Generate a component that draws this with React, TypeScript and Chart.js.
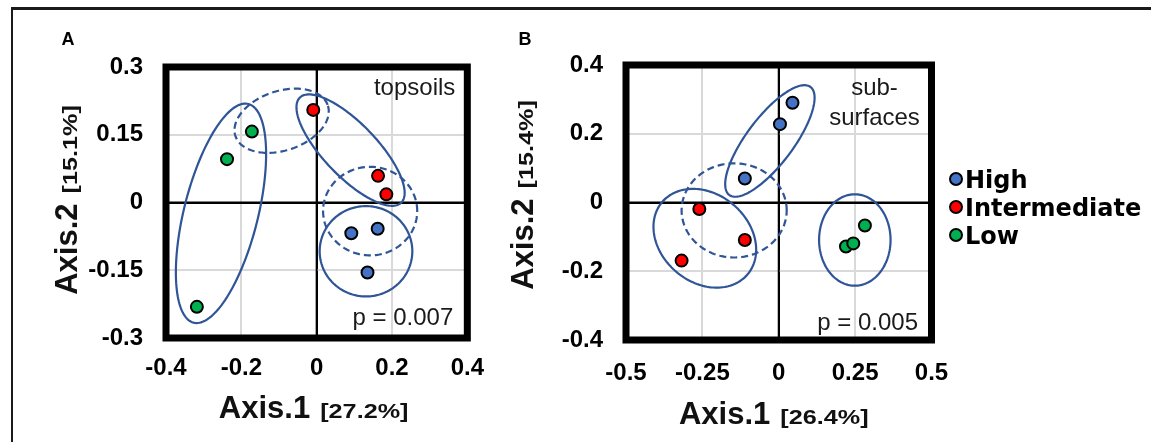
import React, { useEffect, useRef } from "react";
import { Chart, registerables } from "chart.js";

Chart.register(...registerables);

// ---------- shared ----------
const groupLabels = ["High", "Intermediate", "Low"];
const groupColors = ["#4472C4", "#FF0000", "#00B050"];

// ---------- Panel A : topsoils ----------
const topHighX = [0.092, 0.162, 0.135];
const topHighY = [-0.068, -0.058, -0.155];
const topInterX = [-0.009, 0.163, 0.185];
const topInterY = [0.205, 0.059, 0.018];
const topLowX = [-0.172, -0.238, -0.318];
const topLowY = [0.157, 0.096, -0.231];
const topXTicks = [-0.4, -0.2, 0, 0.2, 0.4];
const topXTickLabels = ["-0.4", "-0.2", "0", "0.2", "0.4"];
const topYTicks = [-0.3, -0.15, 0, 0.15, 0.3];
const topYTickLabels = ["-0.3", "-0.15", "0", "0.15", "0.3"];
// ellipse: [centerX, centerY, axis1X, axis1Y, axis2X, axis2Y] (data units)
const topEllipses = [
  [-0.254, -0.024, 0.073, 0.242, 0.095, -0.021],
  [-0.093, 0.181, 0.123, 0.033, 0.023, -0.063],
  [0.09, 0.116, 0.135, -0.116, 0.049, 0.042],
  [0.142, -0.019, 0.125, 0, 0, 0.098],
  [0.131, -0.108, 0.123, 0, 0, 0.1],
];
const topEllipseDashed = [false, true, false, true, false];
const topXTitle = ["Axis.1", "[27.2%]"];
const topYTitle = ["Axis.2", "[15.1%]"];
const topNote = ["topsoils"];
const topP = "p = 0.007";

// ---------- Panel B : sub-surfaces ----------
const subHighX = [0.045, 0.004, -0.111];
const subHighY = [0.29, 0.228, 0.07];
const subInterX = [-0.26, -0.111, -0.318];
const subInterY = [-0.019, -0.109, -0.169];
const subLowX = [0.22, 0.244, 0.282];
const subLowY = [-0.128, -0.119, -0.067];
const subXTicks = [-0.5, -0.25, 0, 0.25, 0.5];
const subXTickLabels = ["-0.5", "-0.25", "0", "0.25", "0.5"];
const subYTicks = [-0.4, -0.2, 0, 0.2, 0.4];
const subYTickLabels = ["-0.4", "-0.2", "0", "0.2", "0.4"];
const subEllipses = [
  [-0.029, 0.179, 0.133, 0.157, 0.061, -0.041],
  [-0.146, -0.023, 0.172, 0, 0, 0.137],
  [-0.242, -0.104, 0.14, -0.105, -0.093, -0.098],
  [0.249, -0.109, 0.117, 0, 0, 0.133],
];
const subEllipseDashed = [false, true, false, false];
const subXTitle = ["Axis.1", "[26.4%]"];
const subYTitle = ["Axis.2", "[15.4%]"];
const subNote = ["sub-", "surfaces"];
const subP = "p = 0.005";

const SANS = '"Liberation Sans", Arial, sans-serif';
const WIDE = '"DejaVu Sans", Verdana, sans-serif';

type Spec = {
  letter: string;
  xs: number[][];
  ys: number[][];
  xTicks: number[];
  xTickLabels: string[];
  yTicks: number[];
  yTickLabels: string[];
  ellipses: number[][];
  dashed: boolean[];
  xTitle: string[];
  yTitle: string[];
  note: string[];
  p: string;
  legend: boolean;
  L: any;
};

const specA: Spec = {
  letter: "A",
  xs: [topHighX, topInterX, topLowX],
  ys: [topHighY, topInterY, topLowY],
  xTicks: topXTicks,
  xTickLabels: topXTickLabels,
  yTicks: topYTicks,
  yTickLabels: topYTickLabels,
  ellipses: topEllipses,
  dashed: topEllipseDashed,
  xTitle: topXTitle,
  yTitle: topYTitle,
  note: topNote,
  p: topP,
  legend: false,
  L: {
    width: 500, left: 0,
    yAxisW: 166, xAxisH: 104, padTop: 67, padRight: 26,
    xTickPad: 16, yTickPad: 23,
    letterX: 68, letterY: 40,
    noteAlign: "right", noteDX: -12, noteDY: 21,
    pDX: -14, pDY: -20,
    yTitleDX: -89, yTitleDY: -2.5,
    xTitleDX: -3, xTitleDY: 80,
  },
};

const specB: Spec = {
  letter: "B",
  xs: [subHighX, subInterX, subLowX],
  ys: [subHighY, subInterY, subLowY],
  xTicks: subXTicks,
  xTickLabels: subXTickLabels,
  yTicks: subYTicks,
  yTickLabels: subYTickLabels,
  ellipses: subEllipses,
  dashed: subEllipseDashed,
  xTitle: subXTitle,
  yTitle: subYTitle,
  note: subNote,
  p: subP,
  legend: true,
  L: {
    width: 651, left: 500,
    yAxisW: 126, xAxisH: 102, padTop: 65, padRight: 219.5,
    xTickPad: 19, yTickPad: 23,
    letterX: 25, letterY: 40,
    noteAlign: "center", noteDX: -57, noteDY: 23,
    pDX: -13.5, pDY: -17,
    yTitleDX: -93, yTitleDY: -7.5,
    xTitleDX: -5, xTitleDY: 83.5,
  },
};

function drawTitle(ctx: CanvasRenderingContext2D, parts: string[]) {
  // draws centred at origin, baseline at y=0
  ctx.font = `bold 31px ${SANS}`;
  const w1 = ctx.measureText(parts[0]).width;
  ctx.font = `bold 21px ${SANS}`;
  const sx = 1.2;
  const w2 = ctx.measureText(parts[1]).width * sx;
  const gap = 10;
  const total = w1 + gap + w2;
  const x0 = -total / 2;
  ctx.textAlign = "left";
  ctx.textBaseline = "alphabetic";
  ctx.font = `bold 31px ${SANS}`;
  ctx.fillText(parts[0], x0, 0);
  ctx.save();
  ctx.translate(x0 + w1 + gap, 0);
  ctx.scale(sx, 1);
  ctx.font = `bold 21px ${SANS}`;
  ctx.fillText(parts[1], 0, 0);
  ctx.restore();
}

function makePlugin(spec: Spec) {
  const L = spec.L;
  return {
    id: "pcoaDecor",
    beforeDatasetsDraw(chart: any) {
      const { ctx, chartArea: ca, scales } = chart;
      const xs = scales.x;
      const ys = scales.y;
      ctx.save();
      ctx.strokeStyle = "#000";
      ctx.lineWidth = 2;
      const x0 = xs.getPixelForValue(0);
      const y0 = ys.getPixelForValue(0);
      ctx.beginPath();
      ctx.moveTo(x0, ca.top);
      ctx.lineTo(x0, ca.bottom);
      ctx.moveTo(ca.left, y0);
      ctx.lineTo(ca.right, y0);
      ctx.stroke();

      ctx.strokeStyle = "#2F5597";
      ctx.lineWidth = 2.2;
      spec.ellipses.forEach((e, k) => {
        ctx.setLineDash(spec.dashed[k] ? [7, 4] : []);
        ctx.beginPath();
        const N = 160;
        for (let i = 0; i <= N; i++) {
          const t = (i / N) * Math.PI * 2;
          const vx = e[0] + e[2] * Math.cos(t) + e[4] * Math.sin(t);
          const vy = e[1] + e[3] * Math.cos(t) + e[5] * Math.sin(t);
          const px = xs.getPixelForValue(vx);
          const py = ys.getPixelForValue(vy);
          if (i === 0) ctx.moveTo(px, py);
          else ctx.lineTo(px, py);
        }
        ctx.closePath();
        ctx.stroke();
      });
      ctx.restore();
    },
    afterDraw(chart: any) {
      const { ctx, chartArea: ca } = chart;
      ctx.save();
      // thick frame
      ctx.strokeStyle = "#000";
      ctx.lineWidth = 7;
      ctx.setLineDash([]);
      ctx.strokeRect(ca.left, ca.top, ca.right - ca.left, ca.bottom - ca.top);

      // panel letter
      ctx.fillStyle = "#000";
      ctx.font = `bold 18px ${SANS}`;
      ctx.textAlign = "center";
      ctx.textBaseline = "middle";
      ctx.fillText(spec.letter, L.letterX, L.letterY);

      // notes
      ctx.fillStyle = "#1a1a1a";
      ctx.font = `24px ${SANS}`;
      ctx.textAlign = L.noteAlign;
      ctx.textBaseline = "middle";
      spec.note.forEach((s, i) => {
        ctx.fillText(s, ca.right + L.noteDX, ca.top + L.noteDY + i * 30);
      });
      ctx.textAlign = "right";
      ctx.fillText(spec.p, ca.right + L.pDX, ca.bottom + L.pDY);

      // axis titles
      ctx.fillStyle = "#111";
      ctx.save();
      ctx.translate((ca.left + ca.right) / 2 + L.xTitleDX, ca.bottom + L.xTitleDY);
      drawTitle(ctx, spec.xTitle);
      ctx.restore();
      ctx.save();
      ctx.translate(ca.left + L.yTitleDX, (ca.top + ca.bottom) / 2 + L.yTitleDY);
      ctx.rotate(-Math.PI / 2);
      drawTitle(ctx, spec.yTitle);
      ctx.restore();

      // legend
      if (spec.legend) {
        const ds = chart.data.datasets;
        ds.forEach((d: any, i: number) => {
          const cx = ca.right + 24.5;
          const cy = 179 + i * 28;
          ctx.beginPath();
          ctx.arc(cx, cy, 6, 0, Math.PI * 2);
          ctx.fillStyle = d.backgroundColor;
          ctx.fill();
          ctx.lineWidth = 2;
          ctx.strokeStyle = "#000";
          ctx.stroke();
          ctx.fillStyle = "#000";
          ctx.font = `bold 24px ${WIDE}`;
          ctx.textAlign = "left";
          ctx.textBaseline = "alphabetic";
          ctx.fillText(d.label, cx + 9, cy + 8.7);
        });
      }
      ctx.restore();
    },
  };
}

function buildConfig(spec: Spec): any {
  const L = spec.L;
  const datasets = groupLabels.map((g, gi) => ({
    label: g,
    data: spec.xs[gi].map((x, i) => ({ x, y: spec.ys[gi][i] })),
    backgroundColor: groupColors[gi],
    borderColor: "#000",
    borderWidth: 2,
    pointRadius: 6,
    pointHoverRadius: 6,
  }));
  const gridColor = (c: any) => (c.tick && c.tick.value === 0 ? "#000" : "#D9D9D9");
  const tickFont = { family: SANS, size: 24, weight: "bold" };
  const labelFor = (vals: number[], labels: string[]) => (v: any) => {
    const idx = vals.findIndex((t) => Math.abs(t - Number(v)) < 1e-9);
    return idx >= 0 ? labels[idx] : "";
  };
  return {
    type: "scatter",
    data: { datasets },
    options: {
      animation: false,
      responsive: false,
      devicePixelRatio: 1,
      events: [],
      layout: { padding: { left: 0, top: L.padTop, right: L.padRight, bottom: 0 } },
      plugins: { legend: { display: false }, tooltip: { enabled: false }, title: { display: false } },
      scales: {
        x: {
          type: "linear",
          position: "bottom",
          min: spec.xTicks[0],
          max: spec.xTicks[spec.xTicks.length - 1],
          afterBuildTicks: (s: any) => {
            s.ticks = spec.xTicks.map((v) => ({ value: v }));
          },
          afterFit: (s: any) => {
            s.height = L.xAxisH;
          },
          ticks: {
            callback: labelFor(spec.xTicks, spec.xTickLabels),
            font: tickFont,
            color: "#000",
            padding: L.xTickPad,
            maxRotation: 0,
            autoSkip: false,
          },
          grid: { color: gridColor, lineWidth: 2, drawTicks: false },
          border: { display: false },
        },
        y: {
          type: "linear",
          position: "left",
          min: spec.yTicks[0],
          max: spec.yTicks[spec.yTicks.length - 1],
          afterBuildTicks: (s: any) => {
            s.ticks = spec.yTicks.map((v) => ({ value: v }));
          },
          afterFit: (s: any) => {
            s.width = L.yAxisW;
          },
          ticks: {
            callback: labelFor(spec.yTicks, spec.yTickLabels),
            font: tickFont,
            color: "#000",
            padding: L.yTickPad,
            autoSkip: false,
          },
          grid: { color: gridColor, lineWidth: 2, drawTicks: false },
          border: { display: false },
        },
      },
    },
    plugins: [makePlugin(spec)],
  };
}

function Panel({ spec }: { spec: Spec }) {
  const ref = useRef<HTMLCanvasElement>(null);
  useEffect(() => {
    const chart = new Chart(ref.current as HTMLCanvasElement, buildConfig(spec));
    return () => chart.destroy();
  }, [spec]);
  return (
    <canvas
      ref={ref}
      width={spec.L.width}
      height={442}
      style={{ position: "absolute", left: spec.L.left, top: 0, width: spec.L.width, height: 442, display: "block" }}
    />
  );
}

export default function App() {
  return (
    <div
      style={{
        position: "absolute",
        left: 0,
        top: 0,
        width: 1151,
        height: 442,
        background: "#fff",
        overflow: "hidden",
      }}
    >
      <div style={{ position: "absolute", left: 11, top: 7, width: 1140, height: 3, background: "#1a1a1a" }} />
      <div style={{ position: "absolute", left: 11, top: 7, width: 2, height: 435, background: "#1a1a1a" }} />
      <Panel spec={specA} />
      <Panel spec={specB} />
    </div>
  );
}
